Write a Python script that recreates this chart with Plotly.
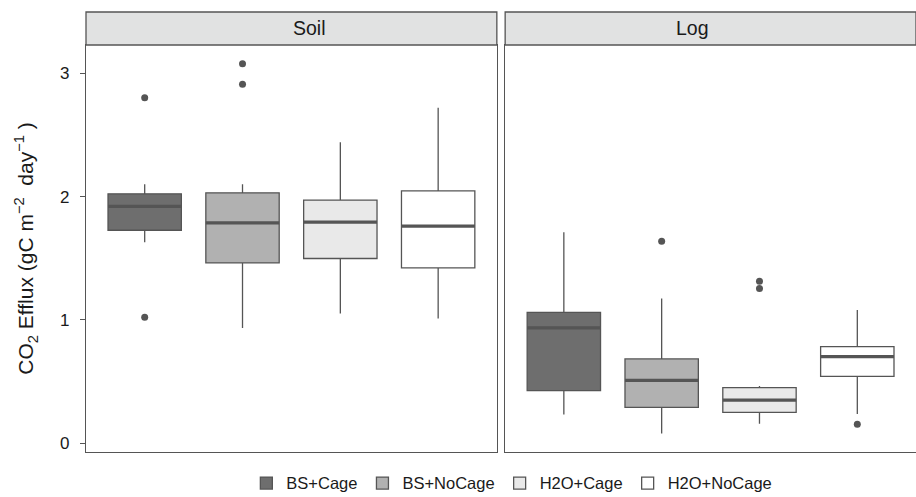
import plotly.graph_objects as go

groups = ["BS+Cage", "BS+NoCage", "H2O+Cage", "H2O+NoCage"]
panels = ["Soil", "Log"]
fills = ["#6e6e6e", "#b1b1b1", "#e9e9e9", "#ffffff"]

# summary stats per panel, per group
soil_lower = [1.63, 0.935, 1.052, 1.011]
soil_q1 = [1.727, 1.462, 1.498, 1.422]
soil_med = [1.92, 1.787, 1.792, 1.76]
soil_q3 = [2.022, 2.03, 1.971, 2.046]
soil_upper = [2.10, 2.10, 2.44, 2.72]
soil_out = [[2.80, 1.022], [3.077, 2.91], [], []]

log_lower = [0.233, 0.079, 0.159, 0.238]
log_q1 = [0.427, 0.292, 0.251, 0.543]
log_med = [0.935, 0.511, 0.351, 0.703]
log_q3 = [1.062, 0.684, 0.452, 0.784]
log_upper = [1.711, 1.173, 0.465, 1.081]
log_out = [[], [1.638], [1.314, 1.254], [0.154]]

y_ticks = [0, 1, 2, 3]

LINE = "#555555"
BOXW = 0.75

stats = {
    "Soil": (soil_lower, soil_q1, soil_med, soil_q3, soil_upper, soil_out),
    "Log": (log_lower, log_q1, log_med, log_q3, log_upper, log_out),
}

fig = go.Figure()
for pi, panel in enumerate(panels):
    xa = "x" if pi == 0 else "x2"
    ya = "y" if pi == 0 else "y2"
    lo, q1, med, q3, up, out = stats[panel]
    for gi, g in enumerate(groups):
        fig.add_trace(go.Box(
            x=[gi], q1=[q1[gi]], median=[med[gi]], q3=[q3[gi]],
            lowerfence=[lo[gi]], upperfence=[up[gi]],
            width=BOXW, whiskerwidth=0, fillcolor=fills[gi],
            line=dict(color=LINE, width=1.3), name=g,
            legendgroup=g, showlegend=(pi == 0),
            xaxis=xa, yaxis=ya, hoverinfo="skip",
        ))
        fig.add_trace(go.Scatter(
            x=[gi - BOXW / 2, gi + BOXW / 2], y=[med[gi], med[gi]],
            mode="lines", line=dict(color=LINE, width=3.2),
            showlegend=False, xaxis=xa, yaxis=ya, hoverinfo="skip",
        ))
        if out[gi]:
            fig.add_trace(go.Scatter(
                x=[gi] * len(out[gi]), y=out[gi], mode="markers",
                marker=dict(color=LINE, size=7),
                showlegend=False, xaxis=xa, yaxis=ya, hoverinfo="skip",
            ))

W, H = 916, 497
ml, mr, mt, mb = 86.3, 0, 45, 45.3
pw = W - ml - mr
ph = H - mt - mb
d1 = [0, 410.7 / pw]
d2 = [(505.3 - ml) / pw, 1]

yr = [-0.07, 3.228]
xr = [-0.6, 3.6]

axis_common = dict(showline=True, linecolor=LINE, linewidth=1.3, mirror=True,
                   showgrid=False, zeroline=False)

fig.update_layout(
    width=W, height=H,
    margin=dict(l=ml, r=mr, t=mt, b=mb, autoexpand=False),
    paper_bgcolor="white", plot_bgcolor="white",
    font=dict(family="Liberation Sans, Arial, sans-serif", size=16, color="#1a1a1a"),
    boxmode="overlay",
    xaxis=dict(domain=d1, range=xr, showticklabels=False, ticks="", **axis_common),
    xaxis2=dict(domain=d2, range=xr, showticklabels=False, ticks="", anchor="y2", **axis_common),
    yaxis=dict(range=yr, tickvals=y_ticks, ticks="outside", ticklen=5, tickcolor=LINE,
               tickwidth=1.2, tickfont=dict(size=17, color="#1a1a1a"),
               ticklabelstandoff=7,
               title=dict(text="CO<sub>2</sub> Efflux (gC m<sup>−2</sup>  day<sup>−1</sup> )",
                          font=dict(size=21), standoff=20),
               automargin=False,
               **axis_common),
    yaxis2=dict(range=yr, anchor="x2", showticklabels=False, ticks="", matches="y",
                **axis_common),
    legend=dict(orientation="h", x=(512 - ml) / pw, xanchor="center",
                y=-(483 - (H - mb)) / ph, yanchor="middle",
                font=dict(size=16.5, color="#1a1a1a"), itemwidth=30,
                tracegroupgap=0),
    showlegend=True,
)

strip_h = 33 / ph
for panel, dom in zip(panels, [d1, d2]):
    fig.add_shape(type="rect", xref="paper", yref="paper",
                  x0=dom[0], x1=dom[1], y0=1, y1=1 + strip_h,
                  fillcolor="#e1e2e2", line=dict(color=LINE, width=1.3), layer="above")
    fig.add_annotation(xref="paper", yref="paper", x=(dom[0] + dom[1]) / 2,
                       y=1 + strip_h / 2, text=panel, showarrow=False,
                       font=dict(size=19.5, color="#1a1a1a"), yanchor="middle")

fig.write_html("out.html")
